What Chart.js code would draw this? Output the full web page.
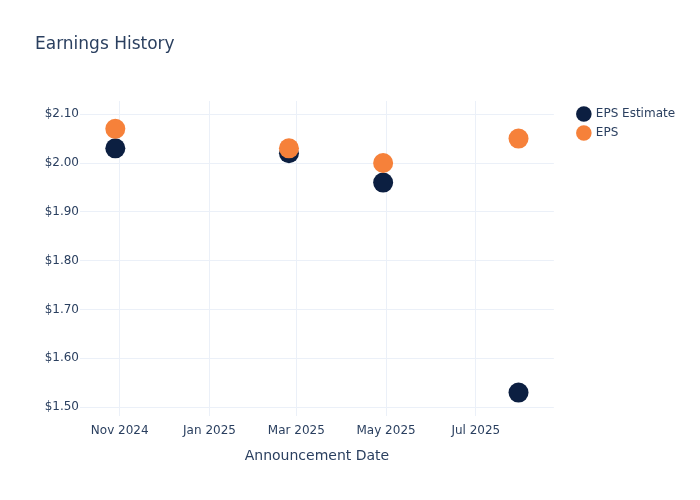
<!DOCTYPE html>
<html>
<head>
<meta charset="utf-8">
<script src="https://cdn.jsdelivr.net/npm/chart.js@4"></script>
<style>
  body { margin: 0; background: #fff; }
</style>
</head>
<body>
<canvas id="myChart" width="700" height="500"></canvas>
<script>
// announcement dates and EPS values
const announceDates = ['2024-10-29', '2025-02-24', '2025-04-29', '2025-07-30'];
const epsEstimate = [2.03, 2.02, 1.96, 1.53];
const epsActual = [2.07, 2.03, 2.00, 2.05];

const xTickDates = ['2024-11-01', '2025-01-01', '2025-03-01', '2025-05-01', '2025-07-01'];
const xTickLabels = ['Nov 2024', 'Jan 2025', 'Mar 2025', 'May 2025', 'Jul 2025'];
const yTicks = [1.5, 1.6, 1.7, 1.8, 1.9, 2.0, 2.1];

const textColor = '#2a3f5f';
const gridColor = '#ebf0f8';
const font = 'DejaVu Sans';

const toPoints = (vals) => vals.map((v, i) => ({ x: Date.parse(announceDates[i]), y: v }));

const ctx = document.getElementById('myChart').getContext('2d');
new Chart(ctx, {
  type: 'scatter',
  data: {
    datasets: [
      {
        label: 'EPS Estimate',
        data: toPoints(epsEstimate),
        backgroundColor: '#0c1f41',
        borderWidth: 0,
        pointRadius: 10,
        order: 1,
      },
      {
        label: 'EPS',
        data: toPoints(epsActual),
        backgroundColor: '#f6813a',
        borderWidth: 0,
        pointRadius: 10,
        order: 0,
      },
    ],
  },
  options: {
    responsive: false,
    animation: false,
    layout: { padding: { left: 35, right: 22, top: 0, bottom: 0 } },
    plugins: {
      tooltip: { enabled: false },
      title: {
        display: true,
        text: 'Earnings History',
        align: 'start',
        color: textColor,
        font: { family: font, size: 17, weight: 'normal' },
        padding: { top: 34, bottom: 46.6 },
      },
      legend: {
        position: 'right',
        align: 'start',
        fullSize: false,
        labels: {
          usePointStyle: true,
          pointStyle: 'circle',
          boxHeight: 11,
          padding: 7,
          color: textColor,
          font: { family: font, size: 12 },
          sort: (a, b) => a.datasetIndex - b.datasetIndex,
        },
      },
    },
    scales: {
      x: {
        type: 'linear',
        min: Date.parse('2024-10-05'),
        max: Date.parse('2025-08-23'),
        afterBuildTicks: (scale) => {
          scale.ticks = xTickDates.map(d => ({ value: Date.parse(d) }));
        },
        afterFit: (scale) => { scale.height = 84; },
        ticks: {
          callback: (value, index) => xTickLabels[index],
          color: textColor,
          font: { family: font, size: 12 },
          padding: 8,
          maxRotation: 0,
          autoSkip: false,
        },
        grid: { color: gridColor, drawTicks: false },
        border: { display: false },
        title: {
          display: true,
          text: 'Announcement Date',
          color: textColor,
          font: { family: font, size: 14 },
          padding: { top: 0, bottom: 35 },
        },
      },
      y: {
        min: 1.482,
        max: 2.127,
        afterBuildTicks: (scale) => {
          scale.ticks = yTicks.map(v => ({ value: v }));
        },
        afterFit: (scale) => { scale.width = 45; },
        ticks: {
          callback: (value) => '$' + value.toFixed(2),
          color: textColor,
          font: { family: font, size: 12 },
          padding: 1,
        },
        grid: { color: gridColor, drawTicks: false },
        border: { display: false },
      },
      // empty right axis, only keeps a gap between plot and legend
      gap: {
        position: 'right',
        display: true,
        ticks: { display: false },
        grid: { display: false },
        border: { display: false },
        afterFit: (scale) => { scale.width = 17; },
      },
    },
  },
});
</script>
</body>
</html>
